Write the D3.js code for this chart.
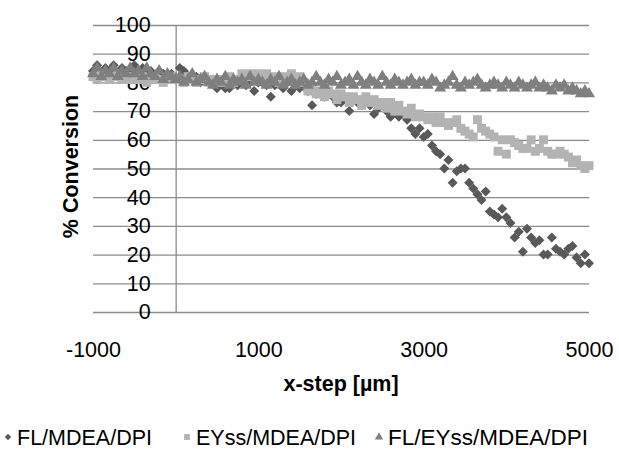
<!DOCTYPE html>
<html>
<head>
<meta charset="utf-8">
<script src="https://cdn.jsdelivr.net/npm/d3@7"></script>
<style>
  body { margin: 0; background: #fff; }
  text { font-family: "Liberation Sans", Arial, sans-serif; fill: #000; }
</style>
</head>
<body>
<div id="chart"><svg></svg></div>
<script>
// x-step positions (µm)
const xSteps = [
  -1000, -950, -900, -850, -800, -750, -700, -650, -600, -550, -500,
  -450, -400, -350, -300, -250, -200, -150, -100, -50, 0,
  50, 100, 150, 200, 250, 300, 350, 400, 450, 500,
  550, 600, 650, 700, 750, 800, 850, 900, 950, 1000,
  1050, 1100, 1150, 1200, 1250, 1300, 1350, 1400, 1450, 1500,
  1550, 1600, 1650, 1700, 1750, 1800, 1850, 1900, 1950, 2000,
  2050, 2100, 2150, 2200, 2250, 2300, 2350, 2400, 2450, 2500,
  2550, 2600, 2650, 2700, 2750, 2800, 2850, 2900, 2950, 3000,
  3050, 3100, 3150, 3200, 3250, 3300, 3350, 3400, 3450, 3500,
  3550, 3600, 3650, 3700, 3750, 3800, 3850, 3900, 3950, 4000,
  4050, 4100, 4150, 4200, 4250, 4300, 4350, 4400, 4450, 4500,
  4550, 4600, 4650, 4700, 4750, 4800, 4850, 4900, 4950, 5000
];

// FL/MDEA/DPI
const flMdea = [
  84, 86, 83, 85, 84, 86, 83, 85, 84, 83, 86,
  84, 85, 83, 84, 82, 84, 83, 82, 83, 81,
  85, 84, 82, 81, 82, 80, 81, 80, 81, 78,
  80, 78, 78, 80, 79, 81, 79, 80, 77, 80,
  80, 79, 75, 79, 80, 78, 80, 77, 79, 78,
  79, 77, 72, 76, 76, 75, 76, 75, 73, 73,
  74, 70, 74, 73, 72, 73, 72, 69, 71, 72,
  70, 68, 70, 68, 69, 67, 64, 62, 64, 61,
  62, 58, 56, 55, 50, 53, 45, 49, 50, 50,
  45, 43, 41, 39, 42, 35, 34, 33, 36, 33,
  31, 26, 28, 21, 29, 26, 24, 25, 20, 20,
  26, 22, 21, 20, 22, 23, 19, 17, 20, 17
];

// EYss/MDEA/DPI
const eyssMdea = [
  82, 81, 83, 82, 81, 82, 83, 81, 82, 81, 82,
  81, 82, 80, 81, 82, 81, 80, 81, 82, 81,
  81, 80, 82, 81, 80, 81, 82, 80, 81, 80,
  81, 80, 82, 80, 81, 83, 82, 83, 82, 83,
  82, 83, 81, 82, 80, 82, 81, 83, 81, 82,
  80, 77, 78, 76, 77, 75, 77, 76, 74, 76,
  75, 73, 75, 74, 72, 75, 73, 74, 72, 73,
  71, 73, 70, 72, 70, 69, 71, 68, 69, 68,
  67, 68, 66, 68, 66, 65, 66, 67, 64, 63,
  62, 61, 67, 64, 63, 62, 61, 56, 60, 55,
  60, 59, 58, 57, 57, 60, 56, 57, 60, 56,
  55, 55, 56, 55, 54, 52, 53, 51, 50, 51
];

// FL/EYss/MDEA/DPI
const flEyssMdea = [
  83, 85, 82, 84, 83, 85, 82, 84, 83, 85, 83,
  84, 82, 85, 83, 82, 84, 81, 83, 82, 81,
  82, 80, 81, 83, 80, 81, 82, 80, 79, 81,
  80, 82, 79, 81, 80, 81, 79, 82, 80, 81,
  80, 79, 81, 80, 82, 79, 80, 81, 79, 80,
  81, 79, 80, 82, 80, 79, 81, 80, 82, 79,
  80, 81, 79, 82, 80, 79, 81, 80, 79, 82,
  80, 79, 81, 80, 79, 80, 81, 79, 80, 80,
  79, 81, 80, 78, 79, 80, 82, 79, 78, 80,
  79, 80, 81, 79, 78, 79, 80, 79, 78, 80,
  79, 78, 80, 79, 78, 79, 80, 78, 79, 78,
  77, 79, 78, 79, 77, 78, 77, 76, 77, 76
];

const seriesNames = ["FL/MDEA/DPI", "EYss/MDEA/DPI", "FL/EYss/MDEA/DPI"];
const xTicks = [-1000, 1000, 3000, 5000];
const yTicks = [0, 10, 20, 30, 40, 50, 60, 70, 80, 90, 100];

const W = 619, H = 452;
const plot = { left: 93, right: 589, top: 25, bottom: 312 };
const fontSize = 21.5;

const svg = d3.select("#chart svg").attr("width", W).attr("height", H);

const xScale = d3.scaleLinear().domain([-1000, 5000]).range([plot.left, plot.right]);
const yScale = d3.scaleLinear().domain([0, 100]).range([plot.bottom, plot.top]);

// gridlines
svg.append("g")
  .attr("transform", `translate(${plot.left},0)`)
  .call(d3.axisLeft(yScale).tickValues(yTicks).tickSize(-(plot.right - plot.left)).tickFormat(""))
  .call(g => g.select(".domain").remove())
  .call(g => g.selectAll("line").attr("stroke", "#8c8c8c").attr("stroke-width", 1.3));

// y axis crosses at x = 0
svg.append("g")
  .attr("transform", `translate(${xScale(0)},0)`)
  .call(d3.axisLeft(yScale).tickValues(yTicks).tickSize(0).tickPadding(25))
  .call(g => g.select(".domain").attr("stroke", "#8c8c8c").attr("stroke-width", 1.3))
  .call(g => g.selectAll("text").attr("font-size", fontSize));

// x axis
svg.append("g")
  .attr("transform", `translate(0,${plot.bottom})`)
  .call(d3.axisBottom(xScale).tickValues(xTicks).tickSize(0).tickPadding(30).tickFormat(d => String(d)))
  .call(g => g.select(".domain").remove())
  .call(g => g.selectAll("text").attr("font-size", fontSize));

// axis titles
svg.append("text")
  .attr("x", (plot.left + plot.right) / 2).attr("y", 391)
  .attr("text-anchor", "middle").attr("font-size", fontSize).attr("font-weight", "bold")
  .text("x-step [µm]");

svg.append("text")
  .attr("transform", `translate(78,${(plot.top + plot.bottom) / 2 - 2}) rotate(-90)`)
  .attr("text-anchor", "middle").attr("font-size", fontSize).attr("font-weight", "bold")
  .text("% Conversion");

const colors = ["#595959", "#b3b3b3", "#7f7f7f"];
const shapes = [
  d3.symbol().type(d3.symbolSquare).size(50),
  d3.symbol().type(d3.symbolSquare).size(80),
  d3.symbol().type(d3.symbolTriangle).size(62)
];
const rotations = [45, 0, 0];

const allSeries = [flMdea, eyssMdea, flEyssMdea];

allSeries.forEach((vals, s) => {
  svg.append("g").selectAll("path")
    .data(vals)
    .join("path")
    .attr("d", shapes[s])
    .attr("fill", colors[s])
    .attr("transform", (d, i) => `translate(${xScale(xSteps[i])},${yScale(d)}) rotate(${rotations[s]})`);
});

// legend
const legendX = [8, 187, 379];
const legendSymbols = [
  d3.symbol().type(d3.symbolSquare).size(20),
  d3.symbol().type(d3.symbolSquare).size(34),
  d3.symbol().type(d3.symbolTriangle).size(30)
];
const legend = svg.append("g").attr("transform", "translate(0,437)");
seriesNames.forEach((name, s) => {
  legend.append("path")
    .attr("d", legendSymbols[s])
    .attr("fill", colors[s])
    .attr("transform", `translate(${legendX[s]},0) rotate(${rotations[s]})`);
  legend.append("text")
    .attr("x", legendX[s] + 9).attr("y", 8)
    .attr("font-size", s === 2 ? 22.5 : fontSize)
    .text(name);
});
</script>
</body>
</html>
